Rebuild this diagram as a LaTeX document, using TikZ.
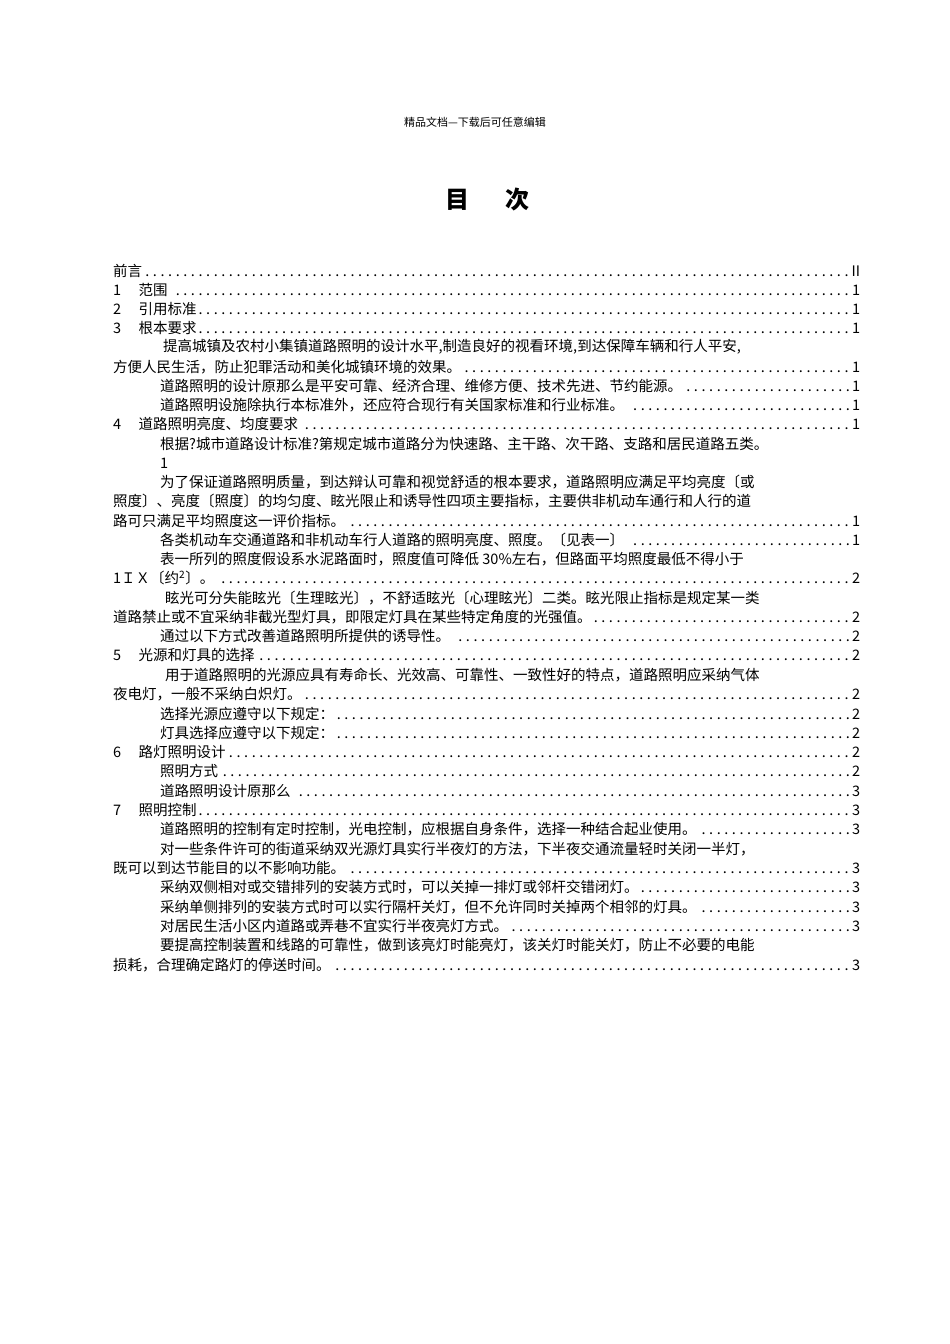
\documentclass[tikz,border=0pt]{standalone}
\usepackage{fontspec}
\setmainfont{Noto Sans CJK SC}
\newcommand\myleader{\leaders\hbox to 7.6pt{\hss.\hss}\hfill}
\newcommand\ent[5]{\node[toc,text width={\dimexpr 860pt-#2pt\relax}] (#1) at (#2,#3) {#4\myleader #5};}
\newcommand\txt[4]{\node[toc] (#1) at (#2,#3) {#4};}
\tikzset{toc/.style={anchor=west,inner sep=0pt,font=\fontsize{14.5}{16}\selectfont,align=left}}
\begin{document}
\begin{tikzpicture}[x=1pt,y=-1pt]
\useasboundingbox[fill=white] (0,0) rectangle (950,1344);
\node[font=\fontsize{11}{12}\selectfont] (hdr) at (475,122) {精品文档---下载后可任意编辑};
\node[font=\bfseries\fontsize{24}{26}\selectfont] (title) at (487,200) {目\hspace{1.5em}次};
\ent{a}{113}{271}{前言}{II}
\ent{b}{113}{290}{1\hspace{1.2em}范围}{1}
\ent{c}{113}{309}{2\hspace{1.2em}引用标准}{1}
\ent{d}{113}{328}{3\hspace{1.2em}根本要求}{1}
\txt{e}{163}{347}{提高城镇及农村小集镇道路照明的设计水平,制造良好的视看环境,到达保障车辆和行人平安,}
\ent{f}{113}{367}{方便人民生活，防止犯罪活动和美化城镇环境的效果。}{1}
\ent{g}{160}{386}{道路照明的设计原那么是平安可靠、经济合理、维修方便、技术先进、节约能源。}{1}
\ent{h}{160}{405}{道路照明设施除执行本标准外，还应符合现行有关国家标准和行业标准。}{1}
\ent{i}{113}{424}{4\hspace{1.2em}道路照明亮度、均度要求}{1}
\txt{j}{160}{444}{根据?城市道路设计标准?第规定城市道路分为快速路、主干路、次干路、支路和居民道路五类。}
\txt{k}{160}{463}{1}
\txt{l}{160}{482}{为了保证道路照明质量，到达辩认可靠和视觉舒适的根本要求，道路照明应满足平均亮度〔或}
\txt{m}{113}{501}{照度〕、亮度〔照度〕的均匀度、眩光限止和诱导性四项主要指标，主要供非机动车通行和人行的道}
\ent{n}{113}{521}{路可只满足平均照度这一评价指标。}{1}
\ent{o}{160}{540}{各类机动车交通道路和非机动车行人道路的照明亮度、照度。〔见表一〕}{1}
\txt{p}{160}{559}{表一所列的照度假设系水泥路面时，照度值可降低 30\%左右，但路面平均照度最低不得小于}
\ent{q}{113}{578}{1ＩＸ〔约\textsuperscript{2}〕。}{2}
\txt{r}{165}{598}{眩光可分失能眩光〔生理眩光〕，不舒适眩光〔心理眩光〕二类。眩光限止指标是规定某一类}
\ent{s}{113}{617}{道路禁止或不宜采纳非截光型灯具，即限定灯具在某些特定角度的光强值。}{2}
\ent{t}{160}{636}{通过以下方式改善道路照明所提供的诱导性。}{2}
\ent{u}{113}{655}{5\hspace{1.2em}光源和灯具的选择}{2}
\txt{v}{165}{675}{用于道路照明的光源应具有寿命长、光效高、可靠性、一致性好的特点，道路照明应采纳气体}
\ent{w}{113}{694}{夜电灯，一般不采纳白炽灯。}{2}
\ent{x1}{160}{714}{选择光源应遵守以下规定：}{2}
\ent{x2}{160}{733}{灯具选择应遵守以下规定：}{2}
\ent{x3}{113}{752}{6\hspace{1.2em}路灯照明设计}{2}
\ent{x4}{160}{771}{照明方式}{2}
\ent{x5}{160}{791}{道路照明设计原那么}{3}
\ent{x6}{113}{810}{7\hspace{1.2em}照明控制}{3}
\ent{x7}{160}{829}{道路照明的控制有定时控制，光电控制，应根据自身条件，选择一种结合起业使用。}{3}
\txt{x8}{160}{849}{对一些条件许可的街道采纳双光源灯具实行半夜灯的方法，下半夜交通流量轻时关闭一半灯，}
\ent{x9}{113}{868}{既可以到达节能目的以不影响功能。}{3}
\ent{y1}{160}{887}{采纳双侧相对或交错排列的安装方式时，可以关掉一排灯或邻杆交错闭灯。}{3}
\ent{y2}{160}{907}{采纳单侧排列的安装方式时可以实行隔杆关灯，但不允许同时关掉两个相邻的灯具。}{3}
\ent{y3}{160}{926}{对居民生活小区内道路或弄巷不宜实行半夜亮灯方式。}{3}
\txt{y4}{160}{945}{要提高控制装置和线路的可靠性，做到该亮灯时能亮灯，该关灯时能关灯，防止不必要的电能}
\ent{y5}{113}{965}{损耗，合理确定路灯的停送时间。}{3}
\end{tikzpicture}
\end{document}
